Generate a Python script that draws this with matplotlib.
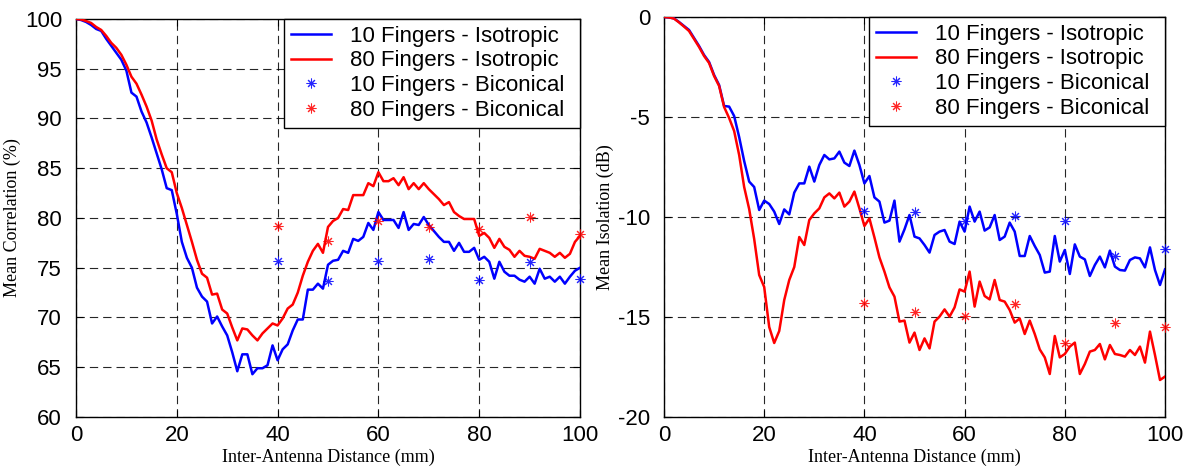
import matplotlib
matplotlib.use("Agg")
import matplotlib.pyplot as plt

plt.rcParams['axes.unicode_minus'] = False
plt.rcParams['lines.scale_dashes'] = False
plt.rcParams['font.family'] = ['Liberation Sans', 'DejaVu Sans']

distance = list(range(0, 101))
bicon_x = [40, 50, 60, 70, 80, 90, 100]

corr_10_iso = [100.0, 99.9, 99.7, 99.4, 99.0, 98.8, 98.0, 97.3, 96.6, 95.9,
               94.8, 92.6, 92.2, 90.7, 89.6, 88.1, 86.5, 84.9, 83.0, 82.8,
               80.4, 77.6, 76.0, 75.0, 73.0, 72.1, 71.6, 69.4, 70.1, 69.1,
               68.2, 66.5, 64.6, 66.3, 66.3, 64.3, 64.9, 64.9, 65.2, 67.2,
               65.7, 66.8, 67.3, 68.7, 69.8, 69.8, 72.8, 72.8, 73.4, 72.9,
               75.3, 75.7, 75.8, 76.7, 76.5, 77.9, 77.7, 78.1, 79.5, 78.8,
               80.6, 79.8, 79.8, 79.8, 79.0, 80.6, 78.8, 79.4, 79.3, 80.1,
               79.3, 78.7, 78.1, 77.6, 77.6, 76.7, 77.5, 76.6, 76.6, 77.0,
               75.8, 76.1, 75.6, 73.9, 75.6, 74.6, 74.2, 74.2, 73.8, 73.6,
               74.1, 73.4, 74.9, 73.9, 74.1, 73.6, 74.1, 73.4, 74.1, 74.7,
               75.0]
corr_80_iso = [100.0, 99.95, 99.8, 99.6, 99.2, 98.9, 98.3, 97.6, 97.1, 96.4,
               95.4, 94.2, 93.5, 92.4, 91.2, 89.8, 87.9, 86.4, 85.0, 84.6,
               82.5, 81.0, 79.3, 77.6, 75.8, 74.4, 74.0, 72.3, 72.4, 70.8,
               70.4, 69.0, 67.7, 68.9, 68.8, 68.2, 67.7, 68.4, 68.9, 69.4,
               69.2, 69.9, 70.9, 71.3, 72.5, 74.2, 75.6, 76.7, 77.4, 76.5,
               79.1, 79.7, 80.0, 80.9, 80.8, 82.3, 82.3, 82.3, 83.5, 83.2,
               84.6, 83.7, 83.7, 84.0, 83.3, 84.1, 82.9, 83.5, 82.9, 83.5,
               82.9, 82.4, 81.9, 81.3, 81.6, 80.6, 80.2, 79.9, 79.9, 79.9,
               78.2, 78.5, 78.0, 77.0, 77.9, 77.1, 76.8, 76.1, 76.7, 76.2,
               76.1, 75.9, 76.9, 76.7, 76.5, 76.1, 76.5, 76.0, 76.4, 77.6,
               78.2]
corr_10_bic = [75.7, 73.7, 75.7, 75.9, 73.8, 75.6, 73.9]
corr_80_bic = [79.2, 77.7, 79.7, 79.1, 78.9, 80.1, 78.4]

iso_10_iso = [0.0, -0.02, -0.07, -0.25, -0.45, -0.65, -1.05, -1.45, -1.9, -2.25,
              -2.9, -3.4, -4.45, -4.48, -4.95, -6.0, -7.2, -8.23, -8.5, -9.65,
              -9.18, -9.35, -9.73, -10.35, -9.62, -9.87, -8.78, -8.32, -8.32, -7.48,
              -8.23, -7.4, -6.9, -7.12, -7.07, -6.73, -7.28, -7.45, -6.68, -7.4,
              -8.32, -7.95, -9.02, -9.23, -10.28, -10.18, -9.18, -11.23, -10.62, -9.9,
              -10.98, -11.07, -11.4, -11.78, -10.9, -10.73, -10.65, -11.23, -11.35, -10.23,
              -10.73, -9.48, -10.23, -9.73, -10.68, -10.52, -9.9, -11.15, -10.98, -10.28,
              -10.73, -11.95, -11.95, -10.95, -11.45, -11.9, -12.78, -12.73, -10.95, -12.23,
              -11.65, -12.85, -11.37, -11.98, -12.12, -12.95, -12.4, -11.98, -12.52, -11.68,
              -12.48, -12.65, -12.68, -12.15, -12.02, -12.07, -12.52, -11.52, -12.65, -13.4,
              -12.62]
iso_80_iso = [0.0, -0.02, -0.08, -0.27, -0.48, -0.7, -1.1, -1.5, -1.95, -2.3,
              -2.95, -3.45, -4.5, -5.05, -5.7, -6.9, -8.5, -9.6, -11.1, -12.9,
              -13.5, -15.5, -16.3, -15.7, -14.15, -13.15, -12.5, -11.0, -11.4, -10.15,
              -9.82, -9.57, -9.02, -8.82, -9.07, -8.78, -9.48, -9.23, -8.73, -9.57,
              -10.45, -10.07, -11.02, -12.02, -12.73, -13.52, -13.98, -15.23, -15.18, -16.28,
              -15.78, -16.65, -16.07, -16.57, -15.23, -14.98, -14.62, -14.98, -14.52, -13.62,
              -13.73, -12.73, -14.48, -13.23, -13.95, -14.12, -13.15, -14.15, -14.23, -14.65,
              -15.28, -15.07, -15.85, -15.18, -15.85, -16.62, -17.02, -17.85, -15.95, -17.02,
              -16.85, -16.48, -16.28, -17.85, -17.35, -16.73, -16.65, -16.35, -17.12, -16.4,
              -16.85, -16.9, -16.98, -16.65, -16.9, -16.48, -17.28, -15.73, -16.9, -18.15,
              -17.98]
iso_10_bic = [-9.68, -9.77, -10.18, -9.95, -10.18, -11.95, -11.6]
iso_80_bic = [-14.32, -14.77, -14.93, -14.35, -16.28, -15.28, -15.52]

labels = ['10 Fingers - Isotropic', '80 Fingers - Isotropic',
          '10 Fingers - Biconical', '80 Fingers - Biconical']
x_ticks = [0, 20, 40, 60, 80, 100]
corr_ticks = [60, 65, 70, 75, 80, 85, 90, 95, 100]
iso_ticks = [-20, -15, -10, -5, 0]

W, H = 1194, 476
fig = plt.figure(figsize=(W / 100, H / 100), dpi=100)
ax1 = fig.add_axes([76 / W, 59 / H, 504 / W, 398 / H])
ax2 = fig.add_axes([664 / W, 59 / H, 501 / W, 400 / H])

blue = '#0000ff'
red = '#ff0000'
star = (8, 2, 0)


def draw(ax, y10, y80, b10, b80, ylim, yticks, ylabel, ax_w_px):
    ax.plot(distance, y10, color=blue, lw=1.8, label=labels[0], zorder=3)
    ax.plot(distance, y80, color=red, lw=1.8, label=labels[1], zorder=3)
    ax.plot(bicon_x, b10, linestyle='none', marker=star, ms=7, mew=0.75,
            color=blue, alpha=0.85, label=labels[2], zorder=4, clip_on=False)
    ax.plot(bicon_x, b80, linestyle='none', marker=star, ms=7, mew=0.75,
            color=red, alpha=0.85, label=labels[3], zorder=4, clip_on=False)
    ax.set_xlim(0, 100)
    ax.set_ylim(*ylim)
    ax.set_xticks(x_ticks)
    ax.set_yticks(yticks)
    ax.grid(True, color='k', lw=0.8, linestyle=(0, (6, 3.6)), alpha=0.85)
    ax.tick_params(direction='in', top=True, right=True, length=5,
                   width=0.8, labelsize=16)
    ax.tick_params(axis='x', pad=6)
    ax.tick_params(axis='y', pad=10)
    for s in ax.spines.values():
        s.set_linewidth(1.0)
    ax.set_xlabel('Inter-Antenna Distance (mm)', family=['Liberation Serif'],
                  fontsize=13, labelpad=2)
    ax.set_ylabel(ylabel, family=['Liberation Serif'], fontsize=13,
                  labelpad=3)
    frac = 296 / ax_w_px
    leg = ax.legend(loc='upper right', bbox_to_anchor=(1 - frac, 0, frac, 1),
                    mode='expand', fontsize=16, frameon=True,
                    fancybox=False, edgecolor='k', framealpha=1,
                    borderaxespad=0, borderpad=0.3, labelspacing=0.17,
                    handlelength=1.8, handletextpad=0.85)
    leg.get_frame().set_linewidth(1.0)
    leg.set_zorder(5)


draw(ax1, corr_10_iso, corr_80_iso, corr_10_bic, corr_80_bic, (60, 100),
     corr_ticks, 'Mean Correlation (%)', 504)
draw(ax2, iso_10_iso, iso_80_iso, iso_10_bic, iso_80_bic, (-20, 0),
     iso_ticks, 'Mean Isolation (dB)', 501)

fig.savefig('out.png', dpi=100)
